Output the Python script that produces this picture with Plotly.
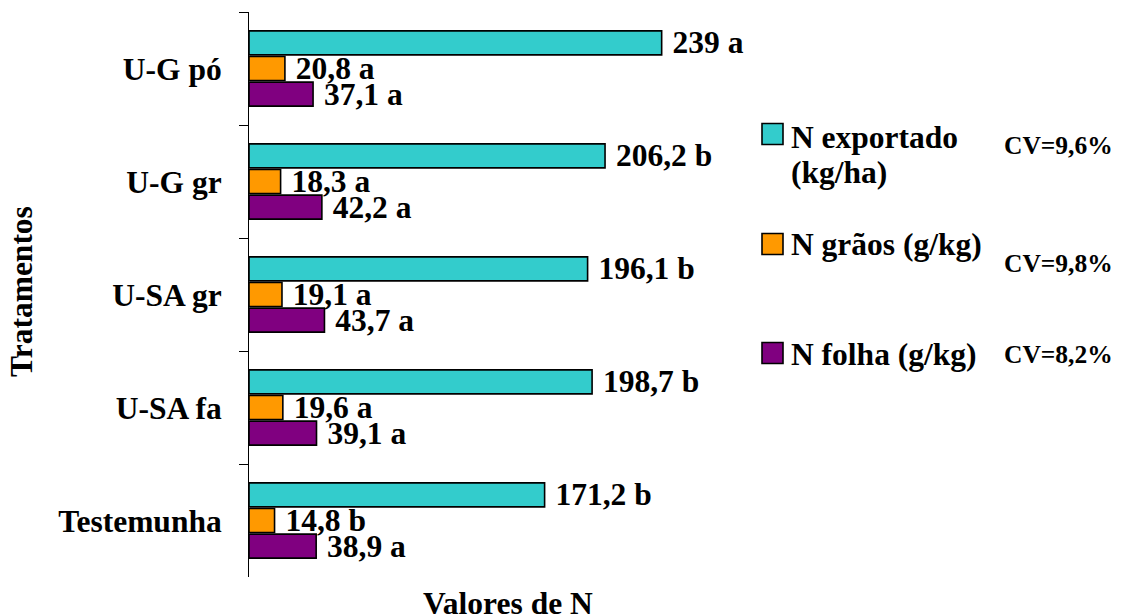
import plotly.graph_objects as go

categories = ["U-G pó", "U-G gr", "U-SA gr", "U-SA fa", "Testemunha"]
n_exportado = [239, 206.2, 196.1, 198.7, 171.2]
n_exportado_letters = ["a", "b", "b", "b", "b"]
n_graos = [20.8, 18.3, 19.1, 19.6, 14.8]
n_graos_letters = ["a", "a", "a", "a", "b"]
n_folha = [37.1, 42.2, 43.7, 39.1, 38.9]
n_folha_letters = ["a", "a", "a", "a", "a"]
series_names = ["N exportado<br>(kg/ha)", "N grãos (g/kg)", "N folha (g/kg)"]
cv_labels = ["CV=9,6%", "CV=9,8%", "CV=8,2%"]
colors = ["#33CCCC", "#FF9900", "#800080"]
x_title = "Valores de N"
y_title = "Tratamentos"

FONT = "Liberation Serif, Times New Roman, serif"
FS = 31.5

def fmt(v, letter):
    return f"{v:g}".replace(".", ",") + " " + letter

series = [
    (n_exportado, n_exportado_letters),
    (n_graos, n_graos_letters),
    (n_folha, n_folha_letters),
]

fig = go.Figure()
for (vals, letters), name, col in zip(series, series_names, colors):
    fig.add_trace(go.Bar(
        y=categories, x=vals, orientation="h", name=name.replace("<br>", " "),
        marker=dict(color=col, line=dict(color="black", width=1.6)),
        text=[fmt(v, l) for v, l in zip(vals, letters)],
        texttemplate=" %{text}",
        textposition="outside", constraintext="none", cliponaxis=False,
        textfont=dict(family=FONT, size=FS, color="black", weight="bold"),
        showlegend=False,
    ))

OFF = 8  # page body margin
W, H = 1124 - OFF, 616 - OFF
L, R, T, B = 249 - OFF, 767 - OFF, 12 - OFF, 577 - OFF

def px_x(px):
    return (px - OFF - L) / (R - L)

def px_y(py):
    return (B - (py - OFF)) / (B - T)

# custom legend (square + text lines + CV)
legend_centers = [134, 244, 353]
text_line_centers = [[137, 172], [245], [355]]
cv_centers = [145, 263, 355]
shapes = []
annotations = []
for i, (name, col) in enumerate(zip(series_names, colors)):
    c = legend_centers[i]
    shapes.append(dict(type="rect", xref="paper", yref="paper",
                       x0=px_x(762), x1=px_x(783), y0=px_y(c + 10.5), y1=px_y(c - 10.5),
                       fillcolor=col, line=dict(color="black", width=1.6)))
    for line, yc in zip(name.split("<br>"), text_line_centers[i]):
        annotations.append(dict(xref="paper", yref="paper", x=px_x(789), y=px_y(yc),
                                xanchor="left", yanchor="middle", text=line,
                                showarrow=False, align="left",
                                font=dict(family=FONT, size=FS, color="black", weight="bold")))
    annotations.append(dict(xref="paper", yref="paper", x=px_x(1002), y=px_y(cv_centers[i]),
                            xanchor="left", yanchor="middle", text=cv_labels[i],
                            showarrow=False,
                            font=dict(family=FONT, size=25.5, color="black", weight="bold")))

# axis titles
annotations.append(dict(xref="paper", yref="paper", x=px_x(508), y=px_y(603),
                        xanchor="center", yanchor="middle", text=x_title, showarrow=False,
                        font=dict(family=FONT, size=FS, color="black", weight="bold")))
annotations.append(dict(xref="paper", yref="paper", x=px_x(21), y=px_y(292),
                        xanchor="center", yanchor="middle", text=y_title, showarrow=False,
                        textangle=-90,
                        font=dict(family=FONT, size=FS, color="black", weight="bold")))

fig.update_layout(
    width=W, height=H,
    margin=dict(l=L, r=W - R, t=T, b=H - B, autoexpand=False),
    paper_bgcolor="white", plot_bgcolor="white",
    barmode="group", bargap=0.32, bargroupgap=0.06,
    font=dict(family=FONT, size=FS, color="black", weight="bold"),
    shapes=shapes, annotations=annotations,
    xaxis=dict(range=[0, 300], showgrid=False, zeroline=False, showline=False,
               showticklabels=False, ticks="", automargin=False),
    yaxis=dict(autorange="reversed", showgrid=False, zeroline=False, automargin=False,
               showline=True, linecolor="black", linewidth=1,
               ticks="outside", tickson="boundaries", ticklen=9, tickcolor="black",
               tickwidth=1, ticklabelstandoff=20,
               tickfont=dict(family=FONT, size=FS, color="black", weight="bold")),
)

fig.write_html("out.html")
